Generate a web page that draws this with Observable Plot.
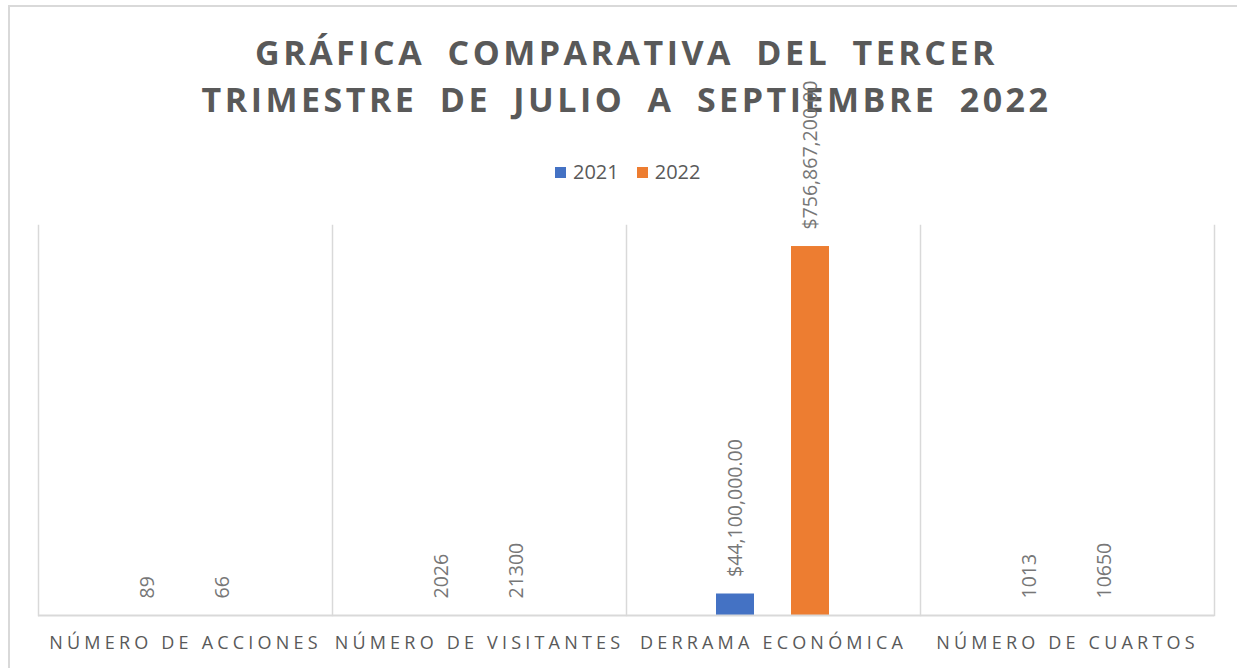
<!DOCTYPE html>
<html>
<head>
<meta charset="utf-8">
<script src="https://cdn.jsdelivr.net/npm/d3@7"></script>
<script src="https://cdn.jsdelivr.net/npm/@observablehq/plot@0.6"></script>
<style>
  html, body { margin: 0; padding: 0; background: #fff; }
  #wrap { position: relative; width: 1237px; height: 668px; overflow: hidden; font-family: "Open Sans", sans-serif; }
  #border { position: absolute; left: 8px; top: 5px; width: 1300px; height: 700px; border: 2px solid #d9d9d9; box-sizing: border-box; }
  #header { position: relative; height: 200px; }
  #title { position: absolute; top: 29px; left: 8px; width: 1237px; text-align: center; font-weight: 700; font-size: 34px; line-height: 47px; letter-spacing: 3.5px; word-spacing: 10px; color: #595959; }
  #legend { position: absolute; top: 160px; left: 555px; display: flex; align-items: center; font-size: 20px; line-height: 24px; color: #595959; }
  #legend .sw { width: 11px; height: 11px; display: inline-block; margin-right: 7px; }
  #legend .item { display: flex; align-items: center; margin-right: 18px; }
  #chart { position: relative; }
</style>
</head>
<body>
<div id="wrap">
  <div id="border"></div>
  <div id="header">
    <div id="title"></div>
    <div id="legend"></div>
  </div>
  <div id="chart"></div>
</div>
<script>
const titleLines = ["GRÁFICA COMPARATIVA DEL TERCER", "TRIMESTRE DE JULIO A SEPTIEMBRE 2022"];
const categories = ["NÚMERO DE ACCIONES", "NÚMERO DE VISITANTES", "DERRAMA ECONÓMICA", "NÚMERO DE CUARTOS"];
const years = ["2021", "2022"];
const colors = ["#4472C4", "#ED7D31"];
const values2021 = [89, 2026, 44100000, 1013];
const values2022 = [66, 21300, 756867200, 10650];
const currencyCategories = ["DERRAMA ECONÓMICA"];

document.getElementById("title").innerHTML = titleLines.join("<br>");
const legend = document.getElementById("legend");
years.forEach((y, i) => {
  const item = document.createElement("span");
  item.className = "item";
  item.innerHTML = `<span class="sw" style="background:${colors[i]}"></span>${y}`;
  legend.appendChild(item);
});

const data = categories.flatMap((c, i) => [
  {category: c, year: years[0], value: values2021[i]},
  {category: c, year: years[1], value: values2022[i]}
]);
const money = d3.format("$,.2f");
const fmt = d => currencyCategories.includes(d.category) ? money(d.value) : String(d.value);

const chart = Plot.plot({
  width: 1237,
  height: 468,
  marginTop: 25,
  marginBottom: 53,
  marginLeft: 37,
  marginRight: 23,
  style: {overflow: "visible", fontFamily: "Open Sans, sans-serif", background: "transparent"},
  fx: {domain: categories, padding: 0, axis: null},
  x: {domain: years, paddingInner: 0.487, paddingOuter: 1.178, axis: null},
  y: {domain: [0, 800000000], axis: null},
  color: {domain: years, range: colors},
  marks: [
    Plot.frame({anchor: "left", stroke: "#d9d9d9", strokeWidth: 1.5}),
    Plot.frame({anchor: "right", facetAnchor: "right", stroke: "#d9d9d9", strokeWidth: 1.5}),
    Plot.barY(data, {fx: "category", x: "year", y: "value", fill: "year"}),
    Plot.ruleY([0], {stroke: "#d9d9d9", strokeWidth: 2}),
    Plot.text(data, {fx: "category", x: "year", y: "value", text: fmt, rotate: -90, textAnchor: "start", lineAnchor: "middle", dy: -17, fill: "#777777", fontSize: 19.5}),
    Plot.text(categories, {fx: d => d, text: d => d, frameAnchor: "bottom", lineAnchor: "middle", dy: 28, fill: "#595959", fontSize: 18})
  ]
});
d3.select(chart).selectAll("text")
  .filter(function() { return categories.includes(this.textContent); })
  .style("letter-spacing", "4.2px");
document.getElementById("chart").appendChild(chart);
</script>
</body>
</html>
